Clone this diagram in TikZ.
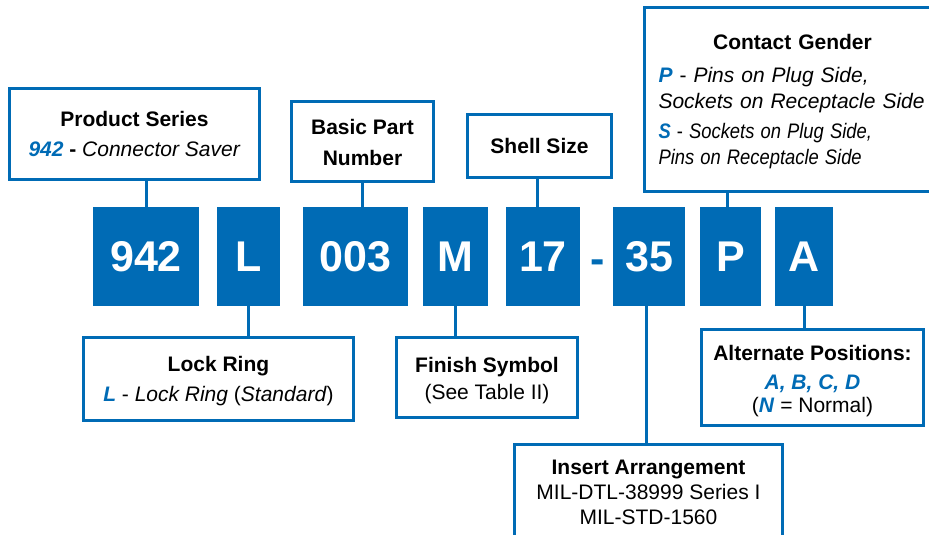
\documentclass[tikz,border=0pt]{standalone}
\usepackage{fontspec}
\setmainfont{Liberation Sans}
\usepackage{graphicx}
\usepackage{tikz}
\usetikzlibrary{positioning}
\newcommand{\blu}[1]{\textcolor{cblue}{\textbf{\textit{#1}}}}

\begin{document}
\begin{tikzpicture}[x=1pt,y=-1pt,
  code/.style={fill=cblue,text=white,minimum height=99pt,inner sep=0pt,font=\fontsize{43}{43}\selectfont\bfseries},
  tag/.style={draw=cblue,line width=3pt,fill=white,inner sep=0pt,align=center,font=\fontsize{21}{30}\selectfont},
  link/.style={draw=cblue,line width=3pt}]
%
\useasboundingbox (0,0) rectangle (929,535);
%
\definecolor{cblue}{rgb}{0.0,0.42,0.71}
%
\node[code,minimum width=106pt] (c942) at (146,256.5) {942};
\node[code,minimum width=63pt] (cL) at (248.5,256.5) {L};
\node[code,minimum width=105pt] (c003) at (355.5,256.5) {003};
\node[code,minimum width=65pt] (cM) at (455.5,256.5) {M};
\node[code,minimum width=74pt] (c17) at (543,256.5) {17};
\node[text=cblue,inner sep=0pt,anchor=base,font=\fontsize{43}{43}\selectfont\bfseries] (hy) at (597.5,273) {-};
\node[code,minimum width=72pt] (c35) at (649,256.5) {35};
\node[code,minimum width=61pt] (cP) at (730.5,256.5) {P};
\node[code,minimum width=58pt] (cA) at (804,256.5) {A};
%
\node[tag,minimum width=250pt,minimum height=91pt] (ps) at (134.5,134) {\textbf{Product Series}\\\blu{942} \textbf{-} \textit{Connector Saver}};
\node[tag,minimum width=142pt,minimum height=80pt,font=\fontsize{21}{31}\selectfont\bfseries] (bpn) at (362.5,141.5) {\rule{0pt}{17pt}Basic Part\\Number};
\node[tag,minimum width=144pt,minimum height=63pt] (ss) at (539.5,146) {\textbf{Shell Size}};
% runs off the right edge
\node[tag,draw=none,anchor=west,inner xsep=12.5pt,text width=295pt,minimum height=180pt,align=left,font=\fontsize{21}{26}\selectfont] (cg) at (644.5,99.5) {\rule{0pt}{19.5pt}\makebox[268pt]{\textbf{Contact Gender}}\\[7pt]
  \blu{P} - \textit{Pins on Plug Side,}\\
  \textit{Sockets on Receptacle Side}\\[4pt]
  \scalebox{0.875}[1]{\blu{S} - \textit{Sockets on Plug Side,}}\\
  \scalebox{0.875}[1]{\textit{Pins on Receptacle Side}}};
\draw[link] (cg.north east) -- (cg.north west) -- (cg.south west) -- (cg.south east);
%
\node[tag,minimum width=270pt,minimum height=83pt] (lr) at (218.5,379) {\rule{0pt}{20pt}\textbf{Lock Ring}\\\blu{L} - \textit{Lock Ring} (\textit{Standard})};
\node[tag,minimum width=181pt,minimum height=80pt,font=\fontsize{21}{27}\selectfont] (fs) at (487,377.5) {\rule{0pt}{21pt}\textbf{Finish Symbol}\\(See Table II)};
\node[tag,minimum width=222pt,minimum height=96pt,font=\fontsize{21}{23}\selectfont] (ap) at (812.5,377.5) {\rule{0pt}{23pt}\textbf{Alternate Positions:}\\[6pt]\blu{A, B, C, D}\\(\blu{N} = Normal)};
\node[tag,minimum width=268pt,minimum height=93pt,font=\fontsize{21}{25}\selectfont] (ia) at (648.5,491) {\rule{0pt}{17pt}\textbf{Insert Arrangement}\\MIL-DTL-38999 Series I\\MIL-STD-1560};
%
\draw[link] (c942.north) -- (c942.north |- ps.south);
\draw[link] (bpn.south) -- (bpn.south |- c003.north);
\draw[link] ([xshift=-2.5pt]ss.south) -- ([xshift=-2.5pt]ss.south |- c17.north);
\draw[link] ([xshift=-3pt]cP.north) -- ([xshift=-3pt]cP.north |- cg.south);
\draw[link] (cL.south) -- (cL.south |- lr.north);
\draw[link] (cM.south) -- (cM.south |- fs.north);
\draw[link] ([xshift=-2.5pt]c35.south) -- ([xshift=-2.5pt]c35.south |- ia.north);
\draw[link] (cA.south) -- (cA.south |- ap.north);
%
\end{tikzpicture}
\end{document}
